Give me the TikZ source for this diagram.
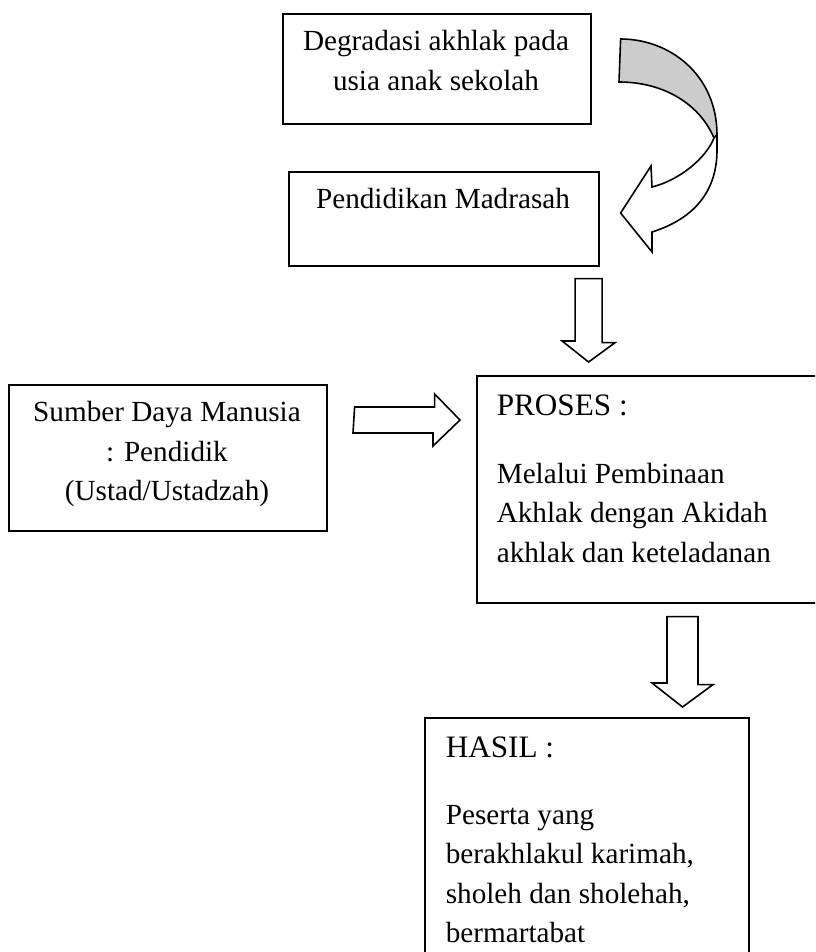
\documentclass[tikz,border=0pt]{standalone}
\usepackage{fontspec}
\setmainfont{Liberation Serif}
\usetikzlibrary{calc}
\begin{document}
\begin{tikzpicture}[x=0.5pt,y=-0.5pt,line width=0.8pt,line join=miter,
  boxnode/.style={draw,line width=0.8pt,inner sep=0pt,anchor=north west},
  txt/.style={inner sep=0pt,font=\fontsize{14.6}{19.75}\selectfont},
  head/.style={inner sep=0pt,font=\fontsize{15.6}{19.75}\selectfont},
  barrow/.style={draw,fill=white,line width=0.8pt,line join=miter}]
\useasboundingbox (0,0) rectangle (815,952);
\clip (0,0) rectangle (815,952);
% boxes
\node[boxnode,minimum width=154pt,minimum height=55pt] (b1) at (282,13) {};
\node[boxnode,minimum width=155pt,minimum height=47pt] (b2) at (288,171) {};
\node[boxnode,minimum width=159pt,minimum height=73pt] (sdm) at (8,384) {};
\node[boxnode,minimum width=180pt,minimum height=113.5pt] (pr) at (476,375) {};
\node[boxnode,minimum width=162pt,minimum height=130pt] (hs) at (424,717) {};
% texts
\node[txt,anchor=base] (b1t) at (436,51) {\parbox[t]{150pt}{\centering Degradasi akhlak pada\\usia anak sekolah}};
\node[txt,anchor=base] (b2t) at (443,209) {Pendidikan Madrasah};
\node[txt,anchor=base] (sdmt) at (167,421.5) {\parbox[t]{155pt}{\centering Sumber Daya Manusia\\: Pendidik\\(Ustad/Ustadzah)}};
\node[head,anchor=base west] (prh) at (496,415.5) {PROSES :};
\node[txt,anchor=base west] (prb) at (496,483) {\parbox[t]{160pt}{\raggedright Melalui Pembinaan\\Akhlak dengan Akidah\\akhlak dan keteladanan}};
\node[head,anchor=base west] (hsh) at (445,757) {HASIL :};
\node[txt,anchor=base west] (hsb) at (445,824) {\parbox[t]{150pt}{\raggedright Peserta yang\\berakhlakul karimah,\\sholeh dan sholehah,\\bermartabat}};
% connector coordinates
\coordinate (d1s) at ($(b2.south east)+(-11,12)$);
\coordinate (d1e) at ($(d1s |- pr.north)+(0,-13)$);
\coordinate (r1s) at ($(sdm.north east)+(27,36)$);
\coordinate (r1e) at ($(r1s -| pr.west)+(-16,0)$);
\coordinate (d2s) at ($(pr.south west)+(206.5,13)$);
\coordinate (d2e) at ($(d2s |- hs.north)+(0,-10)$);
% block arrows
\draw[barrow] ($(d1s)+(-13.5,0)$) -- ++(27,0) -- ++(0,64) -- ++(13,0) -- (d1e) -- ++(-26.5,-21) -- ++(13,0) -- cycle;
\draw[barrow] ($(r1s)+(0,-13)$) -- ++(80,0) -- ++(0,-13) -- (r1e) -- ++(-27,26) -- ++(0,-13) -- ++(-80,0) -- cycle;
\draw[barrow] ($(d2s)+(-15.5,0)$) -- ++(31,0) -- ++(0,68) -- ++(15,0) -- (d2e) -- ++(-30.5,-24) -- ++(15,0) -- cycle;
% curved arrow from b1 to b2
\coordinate (ct) at ($(b1.north east)+(29,26)$);
\coordinate (ctip) at ($(b2.north east)+(21,42)$);
\draw[fill=black!20,line join=miter] (ct) .. controls (670,39) and (717,75) .. (717,135) -- (714,138) .. controls (700,105) and (665,82) .. (619,82) -- cycle;
\draw[barrow] (714,138) .. controls (706,158) and (680,180) .. (652,187) -- (651,166) -- (ctip) -- (652,252) -- (652,232) .. controls (690,220) and (717,195) .. (717,150) -- (717,135) -- cycle;
\end{tikzpicture}
\end{document}
